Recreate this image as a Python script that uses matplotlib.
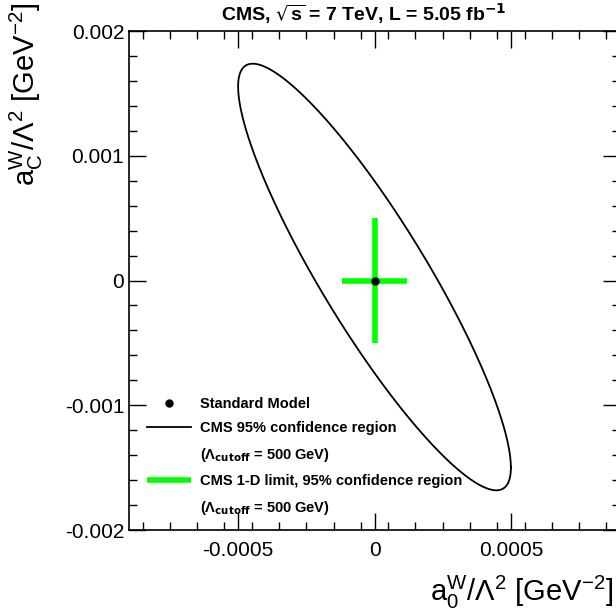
import numpy as np
import matplotlib
matplotlib.use('Agg')
import matplotlib.pyplot as plt

plt.rcParams['font.family'] = ['Liberation Sans', 'DejaVu Sans']
plt.rcParams['mathtext.default'] = 'regular'

# ellipse parameters (centre, half extents, phase)
ell_cx, ell_cy = 0.0, 0.000028
ell_ax, ell_ay = 0.0005, 0.00171
ell_phi = 0.467

sm_x, sm_y = [0.0], [0.0]
lim_x = [-0.00012, 0.00012]
lim_y = [-0.0005, 0.0005]

xticks = [-0.0005, 0, 0.0005]
xtick_labels = ['-0.0005', '0', '0.0005']
yticks = [-0.002, -0.001, 0, 0.001, 0.002]
ytick_labels = ['-0.002', '-0.001', '0', '0.001', '0.002']

fig = plt.figure(figsize=(6.16, 6.14), dpi=100)
ax = fig.add_axes([129/616, (614-530)/614, (620-129)/616, (530-31)/614])

t = np.linspace(0, 2*np.pi, 400)
ex = ell_cx + ell_ax*np.cos(t)
ey = ell_cy - ell_ay*np.cos(t + ell_phi)
ax.plot(ex, ey, color='black', lw=1.3, label='CMS 95% confidence region')
ax.plot([np.nan], [np.nan], color='none', label=r'($\Lambda_{\mathbf{cutoff}}$ = 500 GeV)')
ax.plot(lim_x, [0, 0], color='#00ff00', lw=4, solid_capstyle='butt',
        label='CMS 1-D limit, 95% confidence region')
ax.plot([0, 0], lim_y, color='#00ff00', lw=4, solid_capstyle='butt')
ax.plot([np.nan], [np.nan], color='none', label=r'($\Lambda_{\mathbf{cutoff}}$ = 500 GeV) ')
ax.plot(sm_x, sm_y, 'o', color='black', ms=5, label='Standard Model', zorder=5)

h, l = ax.get_legend_handles_labels()
order = [4, 0, 1, 2, 3]
leg = ax.legend([h[i] for i in order], [l[i] for i in order], loc='lower left',
                bbox_to_anchor=(0.01, 0.0), frameon=False, handlelength=3.0,
                handletextpad=0.6, labelspacing=0.72, prop={'weight': 'bold', 'size': 10.5})

ax.set_xlim(-0.0009, 0.0009)
ax.set_ylim(-0.002, 0.002)
ax.set_xticks(xticks)
ax.set_xticklabels(xtick_labels, fontsize=15)
ax.set_yticks(yticks)
ax.set_yticklabels(ytick_labels, fontsize=15)
ax.set_xticks(np.arange(-0.00085, 0.0009, 0.0001), minor=True)
ax.set_yticks(np.arange(-0.002, 0.0021, 0.0002), minor=True)
ax.tick_params(which='both', direction='in', top=True, right=True)
ax.tick_params(which='major', length=12, width=1)
ax.tick_params(which='minor', length=6, width=1)
ax.tick_params(axis='x', pad=8)
for s in ax.spines.values():
    s.set_linewidth(1.2)

fig.text(0.995, 0.005, r'$a_0^W/\Lambda^2$ [GeV$^{-2}$]', ha='right', va='bottom', fontsize=21)
fig.text(0.012, 0.995, r'$a_C^W/\Lambda^2$ [GeV$^{-2}$]', ha='left', va='top',
         rotation=90, fontsize=21)
fig.text(0.59, 0.997, r'CMS, $\sqrt{s}$ = 7 TeV, L = 5.05 fb$^{\mathbf{-1}}$',
         ha='center', va='top', fontsize=14, weight='bold')

fig.savefig('out.png', dpi=100)
